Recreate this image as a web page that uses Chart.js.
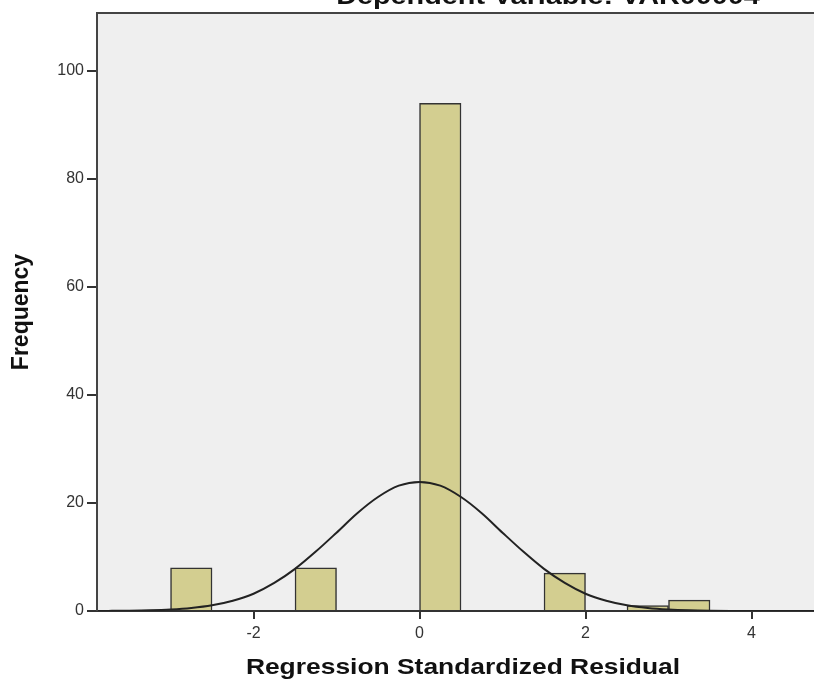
<!DOCTYPE html>
<html>
<head>
<meta charset="utf-8">
<script src="https://cdn.jsdelivr.net/npm/chart.js@4"></script>
<style>
  body { margin: 0; background: #fff; }
  #wrap { width: 814px; height: 684px; position: relative; }
</style>
</head>
<body>
<div id="wrap"><canvas id="histChart"></canvas></div>
<script>
// histogram bins (left edge of each bin) and counts
const binStarts = [-3.0, -1.5, 0.0, 1.5, 2.5, 3.0];
const binWidth = 0.5;
const counts = [8, 8, 94, 7, 1, 2];

// normal curve
const curveX = [-3.9, -3.75, -3.5, -3.25, -3.0, -2.75, -2.5, -2.25, -2.0, -1.75, -1.5, -1.25, -1.0, -0.75, -0.5, -0.25, 0.0,
                0.25, 0.5, 0.75, 1.0, 1.25, 1.5, 1.75, 2.0, 2.25, 2.5, 2.75, 3.0, 3.25, 3.5, 3.75, 4.0, 4.5, 4.8];
const curveY = [0.01, 0.02, 0.05, 0.12, 0.27, 0.55, 1.05, 1.9, 3.2, 5.2, 7.8, 11.0, 14.5, 18.1, 21.1, 23.2, 23.9,
                23.2, 21.1, 18.1, 14.5, 11.0, 7.8, 5.2, 3.2, 1.9, 1.05, 0.55, 0.27, 0.12, 0.05, 0.02, 0.01, 0.0, 0.0];

const xTicks = [-2, 0, 2, 4];
const yTicks = [0, 20, 40, 60, 80, 100];

const titleText = "Dependent Variable: VAR00004";
const xTitleText = "Regression Standardized Residual";
const yTitleText = "Frequency";

const barPoints = binStarts.map((s, i) => ({ x: s + binWidth / 2, y: counts[i] }));
const curvePoints = curveX.map((x, i) => ({ x: x, y: curveY[i] }));

// the source picture is a little stretched sideways, so wide texts are drawn scaled
function wideText(ctx, text, cx, cy, baseline) {
  ctx.save();
  ctx.translate(cx, cy);
  ctx.scale(1.2, 1);
  ctx.textAlign = "center";
  ctx.textBaseline = baseline;
  ctx.fillText(text, 0, 0);
  ctx.restore();
}

// plot background, frame, cut-off title and x title
const framePlugin = {
  id: "frame",
  beforeDraw(chart) {
    const { ctx, chartArea: a } = chart;
    ctx.save();
    ctx.fillStyle = "#efefef";
    ctx.fillRect(a.left, a.top, a.right - a.left, a.bottom - a.top);
    ctx.restore();
  },
  afterDraw(chart) {
    const { ctx, chartArea: a } = chart;
    ctx.save();
    ctx.strokeStyle = "#444";
    ctx.lineWidth = 2;
    ctx.beginPath();
    ctx.moveTo(a.left, a.bottom);
    ctx.lineTo(a.left, a.top);
    ctx.lineTo(a.right + 2, a.top);
    ctx.stroke();
    ctx.fillStyle = "#111";
    ctx.font = "bold 24px Arial, 'Liberation Sans'";
    wideText(ctx, titleText, 548, 4, "alphabetic");
    ctx.font = "bold 22px Arial, 'Liberation Sans'";
    wideText(ctx, xTitleText, 463, 668, "middle");
    ctx.restore();
  }
};

const tickFont = { family: "Arial, 'Liberation Sans'", size: 16 };
const titleFont = { family: "Arial, 'Liberation Sans'", size: 23, weight: "bold" };

new Chart(document.getElementById("histChart").getContext("2d"), {
  data: {
    datasets: [
      {
        type: "line",
        data: curvePoints,
        borderColor: "#222",
        borderWidth: 2,
        pointRadius: 0,
        cubicInterpolationMode: "monotone",
        fill: false,
        order: 0
      },
      {
        type: "bar",
        data: barPoints,
        backgroundColor: "#d3ce90",
        borderColor: "#333",
        borderWidth: 1.5,
        barPercentage: 1.0,
        categoryPercentage: 1.0,
        grouped: false,
        order: 1
      }
    ]
  },
  options: {
    responsive: true,
    maintainAspectRatio: false,
    animation: false,
    layout: { padding: { top: 13, right: 0, left: 0, bottom: 0 } },
    plugins: {
      legend: { display: false },
      tooltip: { enabled: false }
    },
    scales: {
      x: {
        type: "linear",
        min: -3.886,
        max: 4.753,
        offset: false,
        afterBuildTicks: (scale) => { scale.ticks = xTicks.map(v => ({ value: v })); },
        afterFit: (scale) => { scale.height = 73; },
        grid: { display: true, offset: false, drawOnChartArea: false, drawTicks: true, tickLength: 8, color: "#333", lineWidth: 2 },
        border: { display: true, color: "#333", width: 2 },
        ticks: { color: "#333", font: tickFont, padding: 5 },
        title: { display: false }
      },
      y: {
        type: "linear",
        min: 0,
        max: 110.7,
        afterBuildTicks: (scale) => { scale.ticks = yTicks.map(v => ({ value: v })); },
        afterFit: (scale) => { scale.width = 97; },
        grid: { display: true, drawOnChartArea: false, drawTicks: true, tickLength: 10, color: "#333", lineWidth: 2 },
        border: { display: true, color: "#333", width: 2 },
        ticks: { color: "#333", font: tickFont, padding: 3 },
        title: {
          display: true,
          text: yTitleText,
          color: "#111",
          font: titleFont,
          padding: { top: 8, bottom: 0 }
        }
      }
    }
  },
  plugins: [framePlugin]
});
</script>
</body>
</html>
